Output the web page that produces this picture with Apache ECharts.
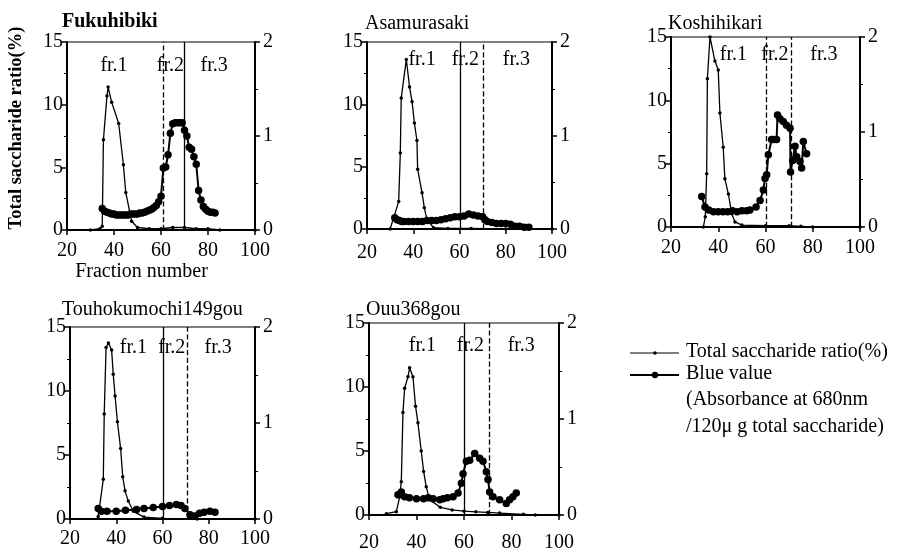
<!DOCTYPE html>
<html>
<head>
<meta charset="utf-8">
<script src="https://cdn.jsdelivr.net/npm/echarts@6/dist/echarts.min.js"></script>
<style>
  html, body { margin: 0; padding: 0; background: #fff; }
  #chart { width: 903px; height: 552px; }
</style>
</head>
<body>
<div id="chart"></div>
<script>
// cultivar names
const cultivars = ['Fukuhibiki', 'Asamurasaki', 'Koshihikari', 'Touhokumochi149gou', 'Ouu368gou'];

const xTicks = [20, 40, 60, 80, 100];

// total saccharide ratio (%) : [fraction number, value]
const totalFuku = [[30, 0], [34, 0.1], [35, 0.3], [35.5, 7.2], [37, 10.7], [37.5, 11.4], [39, 10.2], [42, 8.5], [44, 5.2], [45, 3.0], [47.5, 0.7], [50, 0.2], [55, 0.1], [60, 0.1], [65, 0.2], [70, 0.2], [75, 0.1], [80, 0.1], [85, 0], [100, 0]];
const totalAsa = [[30, 0], [33.7, 2.2], [34.4, 6.1], [34.8, 10.5], [37, 13.6], [38.4, 11.4], [39.5, 10.2], [40.5, 8.5], [41.6, 7.1], [41.9, 4.8], [43.8, 2.9], [44.8, 1.7], [45.9, 0.75], [48.8, 0.1], [55, 0.05], [65, 0.05], [80, 0], [100, 0]];
const totalKosh = [[33.7, 0], [34.5, 0.8], [35.1, 4.2], [35.4, 11.7], [36.5, 15], [38.6, 13.1], [40, 12.4], [40.7, 9.0], [42.1, 6.3], [42.8, 3.8], [44.3, 2.6], [45.7, 1.05], [47.1, 0.4], [50, 0.15], [60, 0.1], [70, 0.1], [75, 0.05], [80, 0], [100, 0]];
const totalTouh = [[32.2, 0.2], [34.4, 3.1], [34.8, 8.2], [35.6, 13.4], [36.6, 13.75], [38, 13.2], [38.7, 11.3], [39.5, 9.6], [40.5, 7.6], [41.9, 5.5], [42.8, 3.3], [43.8, 2.2], [45.2, 1.4], [47.4, 0.6], [52, 0.15], [60, 0.05], [75, 0], [100, 0]];
const totalOuu = [[27.3, 0.1], [31.5, 0.26], [32.9, 1.4], [33.6, 2.6], [34.3, 8.0], [35, 9.9], [36.4, 10.8], [37.1, 11.5], [38.5, 10.8], [39.6, 8.5], [40.6, 7.2], [42, 5.0], [43, 3.4], [44.1, 2.2], [45.5, 1.2], [50, 0.6], [55, 0.4], [60, 0.3], [65, 0.25], [70, 0.2], [75, 0.15], [85, 0.05], [90, 0], [100, 0]];

// blue value (absorbance at 680nm / 120ug total saccharide)
const blueFuku = [[35, 0.23], [36, 0.2], [37, 0.19], [38, 0.18], [39, 0.17], [40, 0.17], [41, 0.16], [42, 0.16], [43, 0.16], [44, 0.16], [45, 0.16], [46, 0.16], [47, 0.17], [48, 0.17], [49, 0.17], [50, 0.17], [51, 0.18], [52, 0.18], [53, 0.19], [54, 0.2], [55, 0.21], [56, 0.22], [57, 0.24], [58, 0.26], [59, 0.3], [60, 0.36], [61, 0.66], [62, 0.67], [63, 0.8], [64, 1.03], [65, 1.13], [66, 1.14], [67, 1.14], [68, 1.14], [69, 1.14], [70, 1.06], [71, 1.0], [72, 0.88], [73, 0.86], [74, 0.78], [75, 0.7], [76, 0.42], [77, 0.32], [78, 0.25], [79, 0.22], [80, 0.2], [81, 0.19], [82, 0.19], [83, 0.18]];
const blueAsa = [[32, 0.12], [33, 0.1], [34, 0.09], [35, 0.08], [36, 0.08], [38, 0.08], [40, 0.08], [42, 0.08], [44, 0.08], [46, 0.09], [48, 0.09], [50, 0.09], [52, 0.1], [54, 0.11], [56, 0.12], [58, 0.13], [60, 0.13], [62, 0.14], [64, 0.16], [66, 0.15], [68, 0.14], [70, 0.13], [71, 0.1], [72, 0.08], [74, 0.07], [76, 0.06], [78, 0.06], [80, 0.06], [82, 0.05], [84, 0.03], [86, 0.03], [88, 0.02], [90, 0.02]];
const blueKosh = [[33, 0.32], [34.4, 0.21], [36, 0.18], [38, 0.16], [40, 0.16], [42, 0.16], [44, 0.16], [46, 0.17], [48, 0.16], [50, 0.17], [52, 0.17], [53.4, 0.18], [56, 0.21], [57.7, 0.28], [59.1, 0.39], [59.8, 0.51], [60.5, 0.55], [61.2, 0.76], [62.6, 0.92], [63.5, 0.92], [64.7, 0.92], [65.1, 1.18], [66.1, 1.14], [67.5, 1.11], [68.9, 1.07], [70.4, 1.04], [70.6, 0.58], [71.5, 0.7], [72.5, 0.85], [73.2, 0.74], [74.6, 0.69], [75.3, 0.62], [76, 0.9], [77.4, 0.77]];
const blueTouh = [[32.2, 0.11], [33.5, 0.08], [36, 0.08], [40, 0.08], [44, 0.09], [48.8, 0.1], [52, 0.11], [56, 0.12], [60, 0.13], [63, 0.14], [66, 0.15], [68, 0.14], [69.7, 0.11], [71.9, 0.045], [74, 0.03], [76, 0.06], [78, 0.07], [80.5, 0.08], [82.7, 0.07]];
const blueOuu = [[32.2, 0.21], [33.6, 0.24], [35, 0.19], [37, 0.18], [40, 0.17], [43, 0.17], [45, 0.18], [47, 0.17], [49.8, 0.16], [51.2, 0.17], [53, 0.18], [55.4, 0.19], [57.5, 0.23], [58.9, 0.33], [59.6, 0.43], [61, 0.56], [62.4, 0.57], [64.5, 0.64], [66.6, 0.59], [68, 0.56], [69.4, 0.45], [70.1, 0.37], [70.8, 0.24], [72.2, 0.19], [75, 0.16], [77.8, 0.12], [79.2, 0.16], [80.6, 0.19], [82, 0.23]];

// fraction boundaries (fraction number)
const fracBounds = [[61, 70], [60.3, 70.1], [60.5, 71.1], [60.3, 70.7], [60.3, 70.5]];
const fracNames = ['fr.1', 'fr.2', 'fr.3'];

const totals = [totalFuku, totalAsa, totalKosh, totalTouh, totalOuu];
const blues = [blueFuku, blueAsa, blueKosh, blueTouh, blueOuu];

// layout
const grids = [
  { left: 67, top: 42, width: 188, height: 188 },
  { left: 367, top: 42, width: 185, height: 187 },
  { left: 671, top: 37, width: 189, height: 190 },
  { left: 70, top: 327, width: 185, height: 192 },
  { left: 369, top: 323, width: 190, height: 192 }
];
const titlePos = [[62, 12], [365, 14], [668, 14], [62, 300], [366, 300]];
const boundTypes = [['dashed', 'solid'], ['solid', 'dashed'], ['dashed', 'dashed'], ['solid', 'dashed'], ['solid', 'dashed']];
const labelX = [[40, 64, 82.6], [43.8, 62.5, 84.6], [46.4, 64, 84.7], [47.4, 64, 84.1], [42.5, 62.7, 84.1]];
const labelY = [13.1, 13.6, 13.6, 13.4, 13.2];
const xLabelMargin = [11, 14, 11, 10, 18];

const FONT = 'Liberation Serif';
const FS = 20;
const chart = echarts.init(document.getElementById('chart'));

const xAxis = grids.map((g, i) => ({
  gridIndex: i,
  type: 'value',
  min: xTicks[0],
  max: xTicks[xTicks.length - 1],
  interval: 20,
  axisLine: { lineStyle: { color: '#000', width: 2 } },
  axisTick: { length: 5, lineStyle: { color: '#000', width: 1.5 } },
  axisLabel: { color: '#000', fontFamily: FONT, fontSize: FS, margin: xLabelMargin[i] },
  splitLine: { show: false },
  name: i === 0 ? 'Fraction number' : '',
  nameLocation: 'middle',
  nameGap: 28,
  nameTextStyle: { color: '#000', fontFamily: FONT, fontSize: 20, padding: [0, 39, 0, 0] }
}));

const yAxis = [];
grids.forEach((g, i) => {
  yAxis.push({
    gridIndex: i,
    type: 'value',
    min: 0, max: 15, interval: 5,
    axisLine: { show: true, lineStyle: { color: '#000', width: 2 } },
    axisTick: { show: true, length: 5, lineStyle: { color: '#000', width: 1.5 } },
    minorTick: { show: true, splitNumber: 2, length: 3, lineStyle: { color: '#000' } },
    axisLabel: { color: '#000', fontFamily: FONT, fontSize: FS, margin: 4 },
    splitLine: { show: false },
    name: i === 0 ? 'Total saccharide ratio(%)' : '',
    nameLocation: 'middle',
    nameRotate: 90,
    nameGap: 41,
    nameTextStyle: { color: '#000', fontFamily: FONT, fontSize: 18.5, fontWeight: 'bold', padding: [0, 0, 0, 16] }
  });
  yAxis.push({
    gridIndex: i,
    type: 'value',
    position: 'right',
    min: 0, max: 2, interval: 1,
    axisLine: { show: true, lineStyle: { color: '#000', width: 2 } },
    axisTick: { show: true, length: 5, lineStyle: { color: '#000', width: 1.5 } },
    minorTick: { show: true, splitNumber: 2, length: 3, lineStyle: { color: '#000' } },
    axisLabel: { color: '#000', fontFamily: FONT, fontSize: FS, margin: 8 },
    splitLine: { show: false }
  });
});

const series = [];
grids.forEach((g, i) => {
  series.push({
    type: 'line',
    xAxisIndex: i,
    yAxisIndex: i * 2,
    data: totals[i],
    symbol: 'circle',
    symbolSize: 3.5,
    showAllSymbol: true,
    itemStyle: { color: '#000' },
    lineStyle: { color: '#000', width: 1.3 },
    animation: false,
    z: 3,
    markLine: {
      silent: true,
      symbol: 'none',
      label: { show: false },
      animation: false,
      data: fracBounds[i].map((b, k) => ({
        xAxis: b,
        lineStyle: { color: '#000', width: 1.3, type: boundTypes[i][k] }
      }))
    },
    markPoint: {
      silent: true,
      symbol: 'circle',
      symbolSize: 1,
      itemStyle: { color: 'rgba(0,0,0,0)' },
      animation: false,
      label: { show: true, position: 'inside', formatter: '{b}', color: '#000', fontFamily: FONT, fontSize: FS },
      data: fracNames.map((n, k) => ({ name: n, coord: [labelX[i][k], labelY[i]] }))
    }
  });
  series.push({
    type: 'line',
    xAxisIndex: i,
    yAxisIndex: i * 2 + 1,
    data: blues[i],
    symbol: 'circle',
    symbolSize: 7.5,
    showAllSymbol: true,
    itemStyle: { color: '#000' },
    lineStyle: { color: '#000', width: 2 },
    animation: false,
    z: 4
  });
});

const title = cultivars.map((c, i) => ({
  text: c,
  left: titlePos[i][0],
  top: titlePos[i][1],
  padding: 0,
  textStyle: { color: '#000', fontFamily: FONT, fontSize: FS, fontWeight: i === 0 ? 'bold' : 'normal' }
}));

// legend drawn by hand
const legendFont = { fill: '#000', font: '20px "Liberation Serif"' };
const graphic = [
  { type: 'line', shape: { x1: 630, y1: 353, x2: 679, y2: 353 }, style: { stroke: '#000', lineWidth: 1.2 } },
  { type: 'circle', shape: { cx: 655, cy: 353, r: 1.8 }, style: { fill: '#000' } },
  { type: 'text', left: 686, top: 342, style: Object.assign({ text: 'Total saccharide ratio(%)' }, legendFont) },
  { type: 'line', shape: { x1: 630, y1: 375, x2: 679, y2: 375 }, style: { stroke: '#000', lineWidth: 2 } },
  { type: 'circle', shape: { cx: 655, cy: 375, r: 3.2 }, style: { fill: '#000' } },
  { type: 'text', left: 686, top: 364, style: Object.assign({ text: 'Blue value' }, legendFont) },
  { type: 'text', left: 686, top: 390, style: Object.assign({ text: '(Absorbance at 680nm' }, legendFont) },
  { type: 'text', left: 686, top: 417, style: Object.assign({ text: '/120\u03bc g total saccharide)' }, legendFont) }
];

chart.setOption({
  backgroundColor: '#fff',
  animation: false,
  title,
  grid: grids.map(g => Object.assign({ show: true, borderColor: '#000', borderWidth: 1, outerBoundsMode: 'none' }, g)),
  xAxis,
  yAxis,
  series,
  graphic
});
</script>
</body>
</html>
